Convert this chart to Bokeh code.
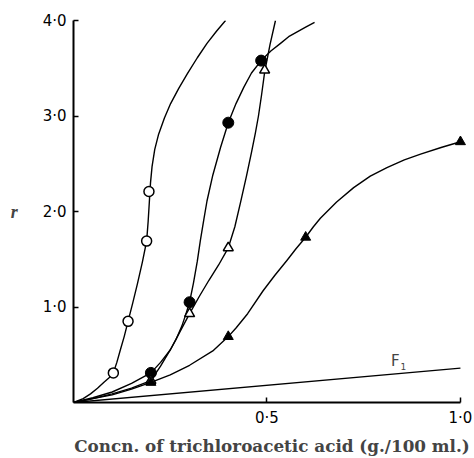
from bokeh.plotting import figure
from bokeh.models import Range1d, FixedTicker, Label
from bokeh.embed import file_html
from bokeh.resources import INLINE

# ---- data ----
# measured points
oc_x = [0.103, 0.141, 0.189, 0.195]
oc_y = [0.31, 0.85, 1.69, 2.21]
fc_x = [0.2, 0.3, 0.4, 0.485]
fc_y = [0.31, 1.05, 2.93, 3.58]
ot_x = [0.2, 0.3, 0.4, 0.494]
ot_y = [0.23, 0.93, 1.62, 3.48]
ft_x = [0.2, 0.4, 0.6, 1.0]
ft_y = [0.21, 0.69, 1.73, 2.73]

# drawn curves
oc_curve_x = [0, 0.025, 0.044, 0.062, 0.078, 0.092, 0.103, 0.112, 0.121, 0.131, 0.141, 0.153, 0.165,
              0.178, 0.189, 0.193, 0.196, 0.199, 0.203, 0.210, 0.220, 0.235, 0.251, 0.272, 0.294,
              0.32, 0.345, 0.37, 0.393]
oc_curve_y = [0, 0.04, 0.09, 0.15, 0.21, 0.26, 0.31, 0.42, 0.55, 0.69, 0.85, 1.04, 1.24,
              1.47, 1.69, 1.90, 2.10, 2.30, 2.47, 2.65, 2.81, 2.98, 3.13, 3.29, 3.44,
              3.61, 3.76, 3.89, 4.0]
fc_curve_x = [0, 0.05, 0.1, 0.15, 0.2, 0.225, 0.25, 0.265, 0.28, 0.29, 0.3, 0.31, 0.32, 0.328, 0.337,
              0.345, 0.36, 0.38, 0.4, 0.42, 0.44, 0.46, 0.485, 0.51, 0.535, 0.556, 0.578, 0.6, 0.623]
fc_curve_y = [0, 0.05, 0.11, 0.2, 0.31, 0.42, 0.55, 0.66, 0.80, 0.92, 1.05, 1.25, 1.48, 1.70, 1.92,
              2.11, 2.38, 2.67, 2.93, 3.13, 3.30, 3.45, 3.58, 3.68, 3.76, 3.83, 3.88, 3.93, 3.98]
ot_curve_x = [0, 0.05, 0.1, 0.15, 0.2, 0.225, 0.25, 0.275, 0.3, 0.325, 0.35, 0.375, 0.4, 0.417, 0.432,
              0.447, 0.46, 0.47, 0.478, 0.486, 0.494, 0.508, 0.522]
ot_curve_y = [0, 0.04, 0.09, 0.15, 0.23, 0.38, 0.55, 0.74, 0.93, 1.11, 1.28, 1.44, 1.62, 1.84, 2.10,
              2.37, 2.62, 2.82, 3.0, 3.22, 3.46, 3.75, 4.0]
ft_curve_x = [0, 0.05, 0.1, 0.15, 0.2, 0.25, 0.3, 0.36, 0.4, 0.42, 0.45, 0.49, 0.52, 0.552, 0.575, 0.6,
              0.62, 0.638, 0.68, 0.724, 0.767, 0.81, 0.855, 0.897, 0.95, 1.0]
ft_curve_y = [0, 0.04, 0.08, 0.14, 0.21, 0.29, 0.39, 0.54, 0.69, 0.78, 0.93, 1.17, 1.33, 1.49, 1.61, 1.73,
              1.84, 1.93, 2.10, 2.25, 2.37, 2.46, 2.54, 2.60, 2.67, 2.73]
f1_x = [0, 1.0]
f1_y = [0, 0.36]

x_ticks = [0.5, 1.0]
x_tick_labels = ["0·5", "1·0"]
y_ticks = [1, 2, 3, 4]
y_tick_labels = ["1·0", "2·0", "3·0", "4·0"]

p = figure(width=474, height=458, output_backend="svg", toolbar_location=None,
           x_range=Range1d(0, 1.026), y_range=Range1d(0, 4.0),
           min_border_left=73, min_border_right=4, min_border_top=20, min_border_bottom=56)
p.outline_line_color = None
p.grid.visible = False
p.background_fill_color = "white"
p.border_fill_color = "white"

tick_font = "DejaVu Sans"
for ax in (p.xaxis[0], p.yaxis[0]):
    ax.axis_line_width = 2
    ax.axis_line_color = "black"
    ax.major_tick_in = 5
    ax.major_tick_out = 0
    ax.minor_tick_in = 0
    ax.minor_tick_out = 0
    ax.major_tick_line_width = 1.5
    ax.major_label_text_font = tick_font
    ax.major_label_text_font_size = "15px"
    ax.major_label_text_color = "black"

p.xaxis.ticker = FixedTicker(ticks=x_ticks)
p.xaxis.major_label_overrides = dict(zip(x_ticks, x_tick_labels))
p.xaxis.bounds = (0, 1.0)
p.xaxis.major_label_standoff = 6
p.xaxis.axis_label = "Concn. of trichloroacetic acid (g./100 ml.)"
p.xaxis.axis_label_text_font = "DejaVu Serif"
p.xaxis.axis_label_text_font_style = "bold"
p.xaxis.axis_label_text_font_size = "16.8px"
p.xaxis.axis_label_standoff = 6

p.yaxis.ticker = FixedTicker(ticks=y_ticks)
p.yaxis.major_label_overrides = dict(zip(y_ticks, y_tick_labels))
p.yaxis.major_label_standoff = 7
p.yaxis.axis_label = "r"
p.yaxis.axis_label_orientation = "horizontal"
p.yaxis.axis_label_text_font = "Liberation Serif"
p.yaxis.axis_label_text_font_style = "bold italic"
p.yaxis.axis_label_text_font_size = "18px"
p.yaxis.axis_label_standoff = 22

lw = 1.4
for cx, cy in [(oc_curve_x, oc_curve_y), (fc_curve_x, fc_curve_y),
               (ot_curve_x, ot_curve_y), (ft_curve_x, ft_curve_y), (f1_x, f1_y)]:
    p.line(cx, cy, line_color="black", line_width=lw, line_join="round")

p.scatter(oc_x, oc_y, marker="circle", size=10, fill_color="white", line_color="black", line_width=1.5)
p.scatter(fc_x, fc_y, marker="circle", size=11, fill_color="black", line_color="black")
p.scatter(ot_x, ot_y, marker="triangle", size=10, fill_color="white", line_color="black", line_width=1.5)
p.scatter(ft_x, ft_y, marker="triangle", size=10, fill_color="black", line_color="black")

p.add_layout(Label(x=0, y=0, text="0", x_offset=-9, y_offset=-13, text_align="center",
                   text_baseline="middle", text_font=tick_font, text_font_size="15px"))
p.add_layout(Label(x=0.832, y=0.43, text="F", text_align="center", text_baseline="middle",
                   text_font=tick_font, text_font_size="15px"))
p.add_layout(Label(x=0.832, y=0.43, text="1", x_offset=8, y_offset=-5, text_align="center",
                   text_baseline="middle", text_font=tick_font, text_font_size="9px"))

open("out.html", "w").write(file_html(p, INLINE))
